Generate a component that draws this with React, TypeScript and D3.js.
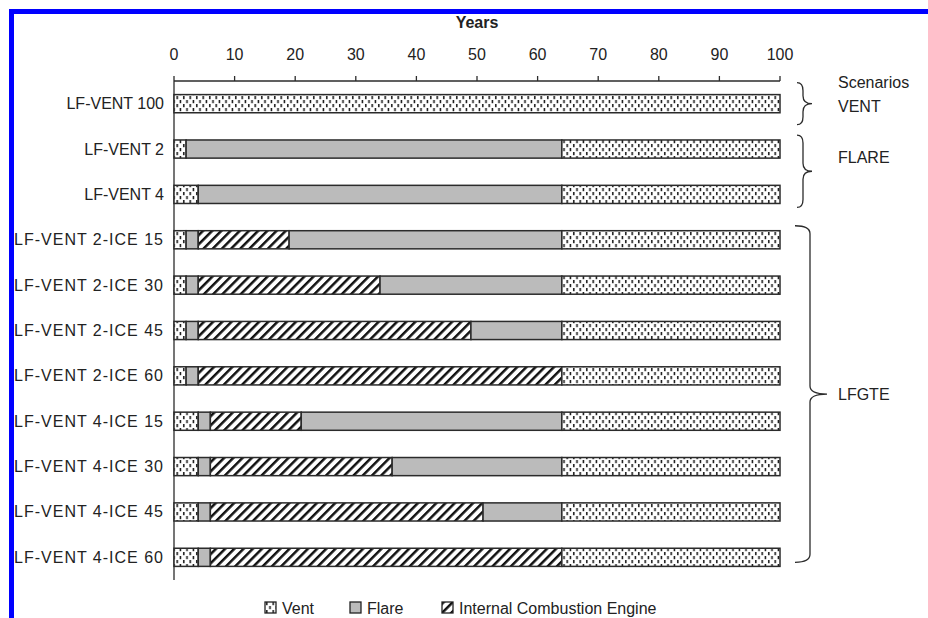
import React from "react";
import * as d3 from "d3";

const scenarios = [
  "LF-VENT 100",
  "LF-VENT 2",
  "LF-VENT 4",
  "LF-VENT 2-ICE 15",
  "LF-VENT 2-ICE 30",
  "LF-VENT 2-ICE 45",
  "LF-VENT 2-ICE 60",
  "LF-VENT 4-ICE 15",
  "LF-VENT 4-ICE 30",
  "LF-VENT 4-ICE 45",
  "LF-VENT 4-ICE 60",
];

// years in each phase, in order along the bar
const ventStart = [100, 2, 4, 2, 2, 2, 2, 4, 4, 4, 4];
const flareBefore = [0, 62, 60, 2, 2, 2, 2, 2, 2, 2, 2];
const iceYears = [0, 0, 0, 15, 30, 45, 60, 15, 30, 45, 58];
const flareAfter = [0, 0, 0, 45, 30, 15, 0, 43, 28, 13, 0];
const ventEnd = [0, 36, 36, 36, 36, 36, 36, 36, 36, 36, 36];

const xTicks = [0, 10, 20, 30, 40, 50, 60, 70, 80, 90, 100];

const groups = [
  { label: ["Scenarios", "VENT"], from: 0, to: 0 },
  { label: ["FLARE"], from: 1, to: 2 },
  { label: ["LFGTE"], from: 3, to: 10 },
];

const legendItems = [
  { key: "vent", label: "Vent" },
  { key: "flare", label: "Flare" },
  { key: "ice", label: "Internal Combustion Engine" },
];

const font = "'Liberation Sans', Arial, sans-serif";
const ink = "#2b2b2b";
const fills: Record<string, string> = {
  vent: "url(#ventPat)",
  flare: "#bbbbbb",
  ice: "url(#icePat)",
};

function brace(x0: number, xv: number, xt: number, y0: number, y1: number) {
  const ym = (y0 + y1) / 2;
  const r = Math.min(8, (y1 - y0) / 4);
  return (
    `M${x0},${y0} Q${xv},${y0} ${xv},${y0 + r} L${xv},${ym - r} ` +
    `Q${xv},${ym} ${xt},${ym} Q${xv},${ym} ${xv},${ym + r} ` +
    `L${xv},${y1 - r} Q${xv},${y1} ${x0},${y1}`
  );
}

export default function App() {
  const x = d3.scaleLinear().domain([0, 100]).range([174, 780]);
  const y = d3
    .scaleBand<string>()
    .domain(scenarios)
    .range([81, 580])
    .paddingInner(0.6)
    .paddingOuter(0.3);
  const bw = y.bandwidth();

  const rows = scenarios.map((s, i) => {
    const parts = [
      { key: "vent", v: ventStart[i] },
      { key: "flare", v: flareBefore[i] },
      { key: "ice", v: iceYears[i] },
      { key: "flare", v: flareAfter[i] },
      { key: "vent", v: ventEnd[i] },
    ];
    let acc = 0;
    const segs = parts
      .map((p) => {
        const seg = { key: p.key, x0: acc, x1: acc + p.v };
        acc += p.v;
        return seg;
      })
      .filter((p) => p.x1 > p.x0);
    return { name: s, segs };
  });

  const legendX = [265, 350, 442];

  return (
    <svg
      width={928}
      height={618}
      style={{ position: "absolute", left: 0, top: 0, background: "#fff" }}
      fontFamily={font}
    >
      <defs>
        <pattern id="ventPat" width={6.5} height={8} patternUnits="userSpaceOnUse">
          <rect width={6.5} height={8} fill="#fff" />
          <rect x={1} y={0} width={1.5} height={3.2} fill="#111" />
          <rect x={4.25} y={4} width={1.5} height={3.2} fill="#111" />
        </pattern>
        <pattern
          id="icePat"
          width={6.5}
          height={6.5}
          patternUnits="userSpaceOnUse"
          patternTransform="rotate(45)"
        >
          <rect width={6.5} height={6.5} fill="#fff" />
          <rect x={0} y={0} width={2.5} height={6.5} fill="#111" />
        </pattern>
      </defs>

      <rect x={0} y={0} width={928} height={618} fill="#fff" />

      {/* blue frame */}
      <rect x={9} y={9} width={919} height={5} fill="#0000ff" />
      <rect x={9} y={9} width={5} height={609} fill="#0000ff" />

      <text
        x={(x(0) + x(100)) / 2}
        y={22}
        textAnchor="middle"
        dominantBaseline="central"
        fontWeight="bold"
        fontSize={16}
        fill="#222"
      >
        Years
      </text>

      {/* top axis */}
      <line x1={x(0)} x2={x(100)} y1={81} y2={81} stroke={ink} strokeWidth={1.3} />
      {xTicks.map((t) => (
        <g key={t}>
          <line x1={x(t)} x2={x(t)} y1={76} y2={81} stroke={ink} strokeWidth={1.3} />
          <text
            x={x(t)}
            y={54}
            textAnchor="middle"
            dominantBaseline="central"
            fontSize={16}
            fill="#222"
          >
            {t}
          </text>
        </g>
      ))}
      <line x1={x(0)} x2={x(0)} y1={81} y2={580} stroke={ink} strokeWidth={1.3} />

      {/* bars */}
      {rows.map((r) => (
        <g key={r.name}>
          <text
            x={164}
            y={(y(r.name) ?? 0) + bw / 2}
            textAnchor="end"
            dominantBaseline="central"
            fontSize={16}
            fill="#222"
            letterSpacing={r.name.includes("ICE") ? 1 : 0}
          >
            {r.name}
          </text>
          {r.segs.map((s, j) => (
            <rect
              key={j}
              x={x(s.x0)}
              y={y(r.name)}
              width={x(s.x1) - x(s.x0)}
              height={bw}
              fill={fills[s.key]}
              stroke={ink}
              strokeWidth={1.5}
            />
          ))}
        </g>
      ))}

      {/* group braces */}
      {groups.map((g, i) => {
        const top = (y(scenarios[g.from]) ?? 0) + bw / 2;
        const bot = (y(scenarios[g.to]) ?? 0) + bw / 2;
        const big = g.to - g.from > 3;
        const y0 = g.from === g.to ? top - 21 : top - 14;
        const y1 = g.from === g.to ? bot + 21 : big ? bot + 5 : bot + 13;
        const xs = big ? [795, 810, 827] : [797, 803, 812];
        const ym = (y0 + y1) / 2;
        return (
          <g key={i}>
            <path
              d={brace(xs[0], xs[1], xs[2], y0, y1)}
              fill="none"
              stroke={ink}
              strokeWidth={1.3}
            />
            {g.label.map((l, k) => (
              <text
                key={l}
                x={838}
                y={
                  g.label.length > 1
                    ? ym - 21 + k * 24
                    : g.from === 1
                    ? ym - 14
                    : ym
                }
                dominantBaseline="central"
                fontSize={16}
                fill="#222"
              >
                {l}
              </text>
            ))}
          </g>
        );
      })}

      {/* legend */}
      {legendItems.map((it, i) => (
        <g key={it.key} transform={`translate(${legendX[i]},602)`}>
          <rect width={11} height={11} fill={fills[it.key]} stroke="#222" strokeWidth={1.3} />
          <text x={17} y={6} dominantBaseline="central" fontSize={16} fill="#222">
            {it.label}
          </text>
        </g>
      ))}
    </svg>
  );
}
